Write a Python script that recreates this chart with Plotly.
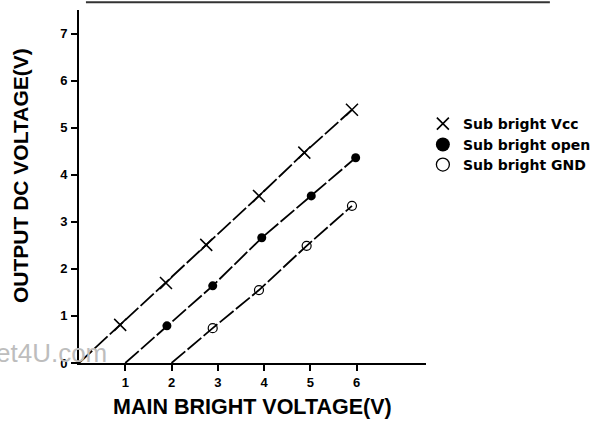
import plotly.graph_objects as go

# Data
vcc_x = [0.89, 1.88, 2.75, 3.89, 4.87, 5.9]
vcc_y = [0.81, 1.70, 2.51, 3.55, 4.47, 5.38]
open_x = [1.90, 2.89, 3.95, 5.02, 5.98]
open_y = [0.79, 1.64, 2.66, 3.55, 4.36]
gnd_x = [2.89, 3.89, 4.92, 5.9]
gnd_y = [0.74, 1.55, 2.49, 3.34]

# Fitted line start points (x-intercepts)
vcc_start = (0.0, 0.0)
open_start = (1.0, 0.0)
gnd_start = (2.0, 0.0)

x_ticks = [1, 2, 3, 4, 5, 6]
y_ticks = [0, 1, 2, 3, 4, 5, 6, 7]

names = ["Sub bright Vcc", "Sub bright open", "Sub bright GND"]

FONT = "Liberation Sans, Arial, sans-serif"
LFONT = "DejaVu Sans, Liberation Sans, sans-serif"
dash = "18px,3px"

fig = go.Figure()

series = [
    (vcc_start, vcc_x, vcc_y,
     dict(symbol="x-thin-open", size=12, color="black", line=dict(width=1.5, color="black")),
     dict(symbol="x-thin-open", size=12, color="black", line=dict(width=1.6, color="black")), names[0]),
    (open_start, open_x, open_y,
     dict(symbol="circle", size=9, color="black", line=dict(width=0, color="black")),
     dict(symbol="circle", size=14, color="black", line=dict(width=0, color="black")), names[1]),
    (gnd_start, gnd_x, gnd_y,
     dict(symbol="circle-open", size=9, color="black", line=dict(width=1.2, color="black")),
     dict(symbol="circle-open", size=13, color="black", line=dict(width=1.3, color="black")), names[2]),
]

for start, xs, ys, mk, lmk, nm in series:
    fig.add_trace(go.Scatter(
        x=[start[0]] + xs, y=[start[1]] + ys, mode="lines",
        line=dict(color="black", width=1.8, dash=dash),
        showlegend=False, hoverinfo="skip"))

legend_ids = ["legend", "legend2", "legend3"]
for (start, xs, ys, mk, lmk, nm), lid in zip(series, legend_ids):
    fig.add_trace(go.Scatter(
        x=xs, y=ys, mode="markers", name=nm, marker=mk, showlegend=False))
    # legend-only entry (larger legend symbol as in the reference)
    fig.add_trace(go.Scatter(
        x=[None], y=[None], mode="markers", name=f"<b>{nm}</b>", marker=lmk,
        showlegend=True, legend=lid))

legend_y = [0.677, 0.618, 0.561]
leg_common = dict(x=0.991, xanchor="left", yanchor="middle",
                  font=dict(family=LFONT, size=14, color="black"),
                  bgcolor="rgba(0,0,0,0)", itemwidth=30, itemsizing="trace")

fig.update_layout(
    width=597, height=422,
    margin=dict(l=79, r=171, t=10, b=59, autoexpand=False),
    paper_bgcolor="white", plot_bgcolor="white",
    font=dict(family=FONT, color="black"),
    showlegend=True,
    legend=dict(y=legend_y[0], **leg_common),
    legend2=dict(y=legend_y[1], **leg_common),
    legend3=dict(y=legend_y[2], **leg_common),
    xaxis=dict(
        range=[0, 7.5], tickvals=x_ticks, ticktext=[f"<b>{v}</b>" for v in x_ticks],
        showgrid=False, zeroline=False, showline=True, linecolor="black", linewidth=2,
        ticks="outside", ticklen=6, tickwidth=2, tickcolor="black",
        tickfont=dict(size=13, family=FONT), automargin=False,
    ),
    yaxis=dict(
        range=[0, 7.5], tickvals=y_ticks, ticktext=[f"<b>{v}</b>" for v in y_ticks],
        showgrid=False, zeroline=False, showline=True, linecolor="black", linewidth=2,
        ticks="outside", ticklen=6, tickwidth=2, tickcolor="black",
        tickfont=dict(size=13, family=FONT), automargin=False,
        ticklabelstandoff=1,
    ),
)

# axis titles placed as annotations (paper coords)
fig.add_annotation(text="<b>MAIN BRIGHT VOLTAGE(V)</b>", xref="paper", yref="paper",
                   x=0.499, y=-0.125, xanchor="center", yanchor="middle", showarrow=False,
                   font=dict(family=FONT, size=21.5, color="black"))
fig.add_annotation(text="<b>OUTPUT DC VOLTAGE(V)</b>", xref="paper", yref="paper",
                   x=-0.167, y=0.53, xanchor="center", yanchor="middle", showarrow=False,
                   textangle=-90, font=dict(family=FONT, size=21, color="black"))

# scan artefact line at top and watermark
fig.add_shape(type="line", xref="paper", yref="paper", x0=0.02, x1=1.357, y0=1.022, y1=1.022,
              line=dict(color="#333333", width=2))
fig.add_annotation(text="et4U.com", xref="paper", yref="paper", x=-0.245, y=0.028,
                   xanchor="left", yanchor="middle", showarrow=False,
                   font=dict(family=FONT, size=26, color="#bdbdbd"))

fig.write_html("out.html", config={"displayModeBar": False},
               post_script="document.body.style.margin='0';")
